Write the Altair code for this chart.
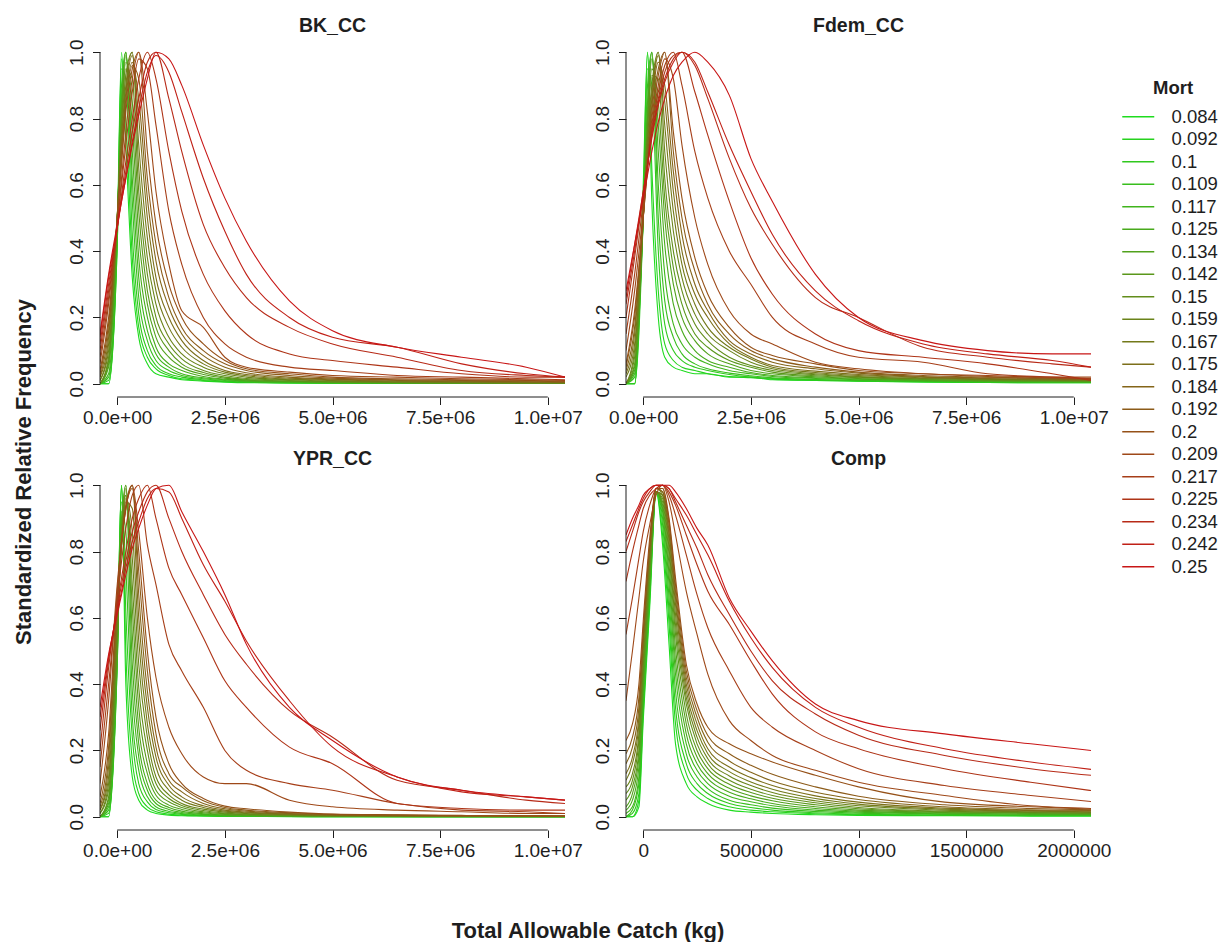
import altair as alt
import pandas as pd

FONT = "Liberation Sans"
INK = "#1e1e1e"

# Natural mortality scenarios (legend order)
MORT = ["0.084", "0.092", "0.1", "0.109", "0.117", "0.125", "0.134", "0.142",
        "0.15", "0.159", "0.167", "0.175", "0.184", "0.192", "0.2", "0.209",
        "0.217", "0.225", "0.234", "0.242", "0.25"]

# TAC grid (kg) shared by the three catch-curve panels
X_TAC = [-400000, -200000, 0, 100000, 200000, 350000, 500000, 700000, 900000,
         1200000, 1500000, 2000000, 2500000, 3000000, 4000000, 5000000,
         6500000, 8000000, 9500000, 10400000]

# TAC grid (kg) for the composite panel
X_COMP = [-80000, -50000, -20000, 0, 30000, 60000, 90000, 120000, 150000,
          200000, 250000, 300000, 400000, 500000, 600000, 800000, 1000000,
          1400000, 1800000, 2080000]

# Standardized relative frequency, one row per mortality value
BK_CC = [
    [0, 0, 0.45, 1.0, 0.72, 0.32, 0.14, 0.06, 0.03, 0.02, 0.012, 0.008, 0.005, 0.003, 0.002, 0.002, 0.001, 0.001, 0.001, 0.001],
    [0, 0, 0.42, 0.98, 0.8, 0.38, 0.17, 0.08, 0.045, 0.025, 0.015, 0.01, 0.006, 0.004, 0.003, 0.002, 0.002, 0.001, 0.001, 0.001],
    [0, 0.01, 0.42, 0.95, 0.92, 0.45, 0.21, 0.1, 0.055, 0.03, 0.02, 0.012, 0.008, 0.005, 0.003, 0.002, 0.002, 0.001, 0.001, 0.001],
    [0, 0.02, 0.44, 0.9, 1.0, 0.55, 0.26, 0.13, 0.07, 0.04, 0.025, 0.015, 0.01, 0.006, 0.004, 0.003, 0.002, 0.002, 0.001, 0.001],
    [0, 0.03, 0.46, 0.86, 1.0, 0.62, 0.32, 0.16, 0.09, 0.05, 0.03, 0.018, 0.012, 0.008, 0.005, 0.003, 0.002, 0.002, 0.001, 0.001],
    [0, 0.05, 0.48, 0.84, 1.0, 0.7, 0.38, 0.2, 0.11, 0.06, 0.04, 0.022, 0.014, 0.009, 0.006, 0.004, 0.003, 0.002, 0.002, 0.002],
    [0, 0.06, 0.5, 0.82, 0.99, 0.78, 0.45, 0.24, 0.14, 0.08, 0.05, 0.028, 0.017, 0.011, 0.007, 0.005, 0.003, 0.002, 0.002, 0.002],
    [0, 0.07, 0.5, 0.8, 0.97, 0.85, 0.52, 0.28, 0.17, 0.1, 0.06, 0.034, 0.02, 0.013, 0.008, 0.005, 0.004, 0.003, 0.002, 0.002],
    [0, 0.08, 0.5, 0.78, 0.95, 0.92, 0.58, 0.33, 0.2, 0.12, 0.075, 0.04, 0.025, 0.016, 0.01, 0.006, 0.004, 0.003, 0.002, 0.002],
    [0.01, 0.1, 0.5, 0.76, 0.93, 1.0, 0.65, 0.38, 0.24, 0.14, 0.09, 0.05, 0.03, 0.02, 0.012, 0.008, 0.005, 0.004, 0.003, 0.003],
    [0.01, 0.12, 0.5, 0.74, 0.9, 1.0, 0.72, 0.44, 0.28, 0.17, 0.11, 0.06, 0.035, 0.024, 0.014, 0.01, 0.006, 0.005, 0.004, 0.003],
    [0.02, 0.14, 0.5, 0.72, 0.88, 0.99, 0.8, 0.5, 0.32, 0.2, 0.13, 0.07, 0.04, 0.028, 0.017, 0.012, 0.008, 0.006, 0.005, 0.004],
    [0.02, 0.16, 0.5, 0.7, 0.86, 0.97, 0.86, 0.56, 0.37, 0.23, 0.15, 0.085, 0.05, 0.033, 0.02, 0.014, 0.01, 0.008, 0.006, 0.005],
    [0.03, 0.18, 0.5, 0.68, 0.84, 0.96, 0.92, 0.62, 0.42, 0.26, 0.17, 0.1, 0.06, 0.04, 0.025, 0.017, 0.012, 0.01, 0.008, 0.006],
    [0.04, 0.2, 0.5, 0.66, 0.82, 0.95, 1.0, 0.7, 0.48, 0.3, 0.2, 0.12, 0.07, 0.045, 0.03, 0.02, 0.015, 0.012, 0.01, 0.008],
    [0.06, 0.24, 0.48, 0.62, 0.76, 0.92, 1.0, 0.82, 0.58, 0.36, 0.22, 0.17, 0.08, 0.05, 0.035, 0.025, 0.02, 0.015, 0.012, 0.01],
    [0.08, 0.26, 0.48, 0.6, 0.72, 0.88, 0.98, 0.95, 0.78, 0.52, 0.36, 0.2, 0.12, 0.08, 0.05, 0.04, 0.025, 0.02, 0.015, 0.012],
    [0.1, 0.28, 0.47, 0.57, 0.67, 0.8, 0.92, 1.0, 0.92, 0.7, 0.52, 0.33, 0.22, 0.15, 0.09, 0.07, 0.05, 0.03, 0.02, 0.02],
    [0.12, 0.3, 0.47, 0.56, 0.64, 0.76, 0.86, 0.97, 1.0, 0.86, 0.7, 0.48, 0.35, 0.26, 0.17, 0.12, 0.08, 0.04, 0.025, 0.02],
    [0.14, 0.32, 0.47, 0.55, 0.62, 0.73, 0.83, 0.94, 0.99, 0.94, 0.82, 0.62, 0.46, 0.33, 0.2, 0.14, 0.11, 0.06, 0.03, 0.02],
    [0.15, 0.33, 0.48, 0.55, 0.62, 0.72, 0.81, 0.92, 1.0, 0.98, 0.9, 0.72, 0.56, 0.43, 0.25, 0.16, 0.11, 0.08, 0.05, 0.02],
]

FDEM_CC = [
    [0, 0, 0.6, 1.0, 0.55, 0.2, 0.08, 0.05, 0.04, 0.03, 0.03, 0.02, 0.02, 0.012, 0.01, 0.008, 0.005, 0.004, 0.003, 0.003],
    [0, 0, 0.55, 1.0, 0.65, 0.28, 0.12, 0.07, 0.05, 0.04, 0.03, 0.022, 0.018, 0.014, 0.01, 0.008, 0.006, 0.004, 0.003, 0.003],
    [0, 0, 0.5, 0.95, 0.9, 0.4, 0.18, 0.1, 0.07, 0.05, 0.04, 0.028, 0.02, 0.016, 0.012, 0.009, 0.007, 0.005, 0.004, 0.004],
    [0, 0.02, 0.5, 0.9, 1.0, 0.5, 0.25, 0.14, 0.09, 0.06, 0.045, 0.032, 0.024, 0.018, 0.013, 0.01, 0.008, 0.006, 0.005, 0.004],
    [0, 0.03, 0.5, 0.85, 1.0, 0.6, 0.33, 0.18, 0.12, 0.08, 0.06, 0.04, 0.03, 0.022, 0.016, 0.012, 0.009, 0.007, 0.006, 0.005],
    [0, 0.04, 0.5, 0.82, 1.0, 0.7, 0.42, 0.24, 0.16, 0.1, 0.07, 0.05, 0.034, 0.025, 0.018, 0.014, 0.01, 0.008, 0.007, 0.006],
    [0, 0.05, 0.5, 0.8, 0.98, 0.78, 0.5, 0.3, 0.2, 0.13, 0.09, 0.06, 0.04, 0.03, 0.021, 0.016, 0.012, 0.009, 0.008, 0.007],
    [0, 0.06, 0.5, 0.78, 0.95, 0.85, 0.56, 0.35, 0.24, 0.15, 0.11, 0.07, 0.05, 0.035, 0.024, 0.018, 0.013, 0.01, 0.009, 0.008],
    [0, 0.08, 0.5, 0.76, 0.93, 0.92, 0.62, 0.4, 0.28, 0.18, 0.13, 0.08, 0.055, 0.04, 0.027, 0.02, 0.015, 0.012, 0.01, 0.009],
    [0, 0.1, 0.5, 0.74, 0.9, 1.0, 0.7, 0.46, 0.32, 0.21, 0.15, 0.1, 0.065, 0.045, 0.03, 0.022, 0.016, 0.013, 0.011, 0.01],
    [0.02, 0.12, 0.5, 0.72, 0.88, 1.0, 0.78, 0.52, 0.36, 0.24, 0.17, 0.11, 0.075, 0.05, 0.034, 0.025, 0.018, 0.014, 0.012, 0.011],
    [0.03, 0.15, 0.5, 0.7, 0.86, 0.99, 0.85, 0.58, 0.4, 0.27, 0.2, 0.12, 0.08, 0.055, 0.038, 0.028, 0.02, 0.016, 0.013, 0.012],
    [0.04, 0.17, 0.5, 0.68, 0.84, 0.97, 0.9, 0.64, 0.45, 0.3, 0.22, 0.13, 0.09, 0.065, 0.045, 0.032, 0.022, 0.018, 0.015, 0.013],
    [0.05, 0.2, 0.5, 0.66, 0.82, 0.95, 1.0, 0.7, 0.5, 0.34, 0.24, 0.15, 0.1, 0.075, 0.05, 0.035, 0.025, 0.02, 0.016, 0.014],
    [0.06, 0.22, 0.5, 0.65, 0.8, 0.93, 1.0, 0.76, 0.56, 0.38, 0.27, 0.17, 0.11, 0.085, 0.06, 0.04, 0.03, 0.022, 0.018, 0.015],
    [0.1, 0.28, 0.52, 0.65, 0.78, 0.9, 0.98, 0.92, 0.72, 0.5, 0.36, 0.22, 0.15, 0.12, 0.065, 0.045, 0.03, 0.025, 0.02, 0.02],
    [0.15, 0.33, 0.55, 0.66, 0.77, 0.88, 0.96, 1.0, 0.9, 0.7, 0.56, 0.4, 0.3, 0.2, 0.12, 0.08, 0.065, 0.03, 0.02, 0.015],
    [0.2, 0.38, 0.57, 0.66, 0.76, 0.86, 0.94, 0.99, 1.0, 0.88, 0.75, 0.55, 0.38, 0.27, 0.15, 0.1, 0.08, 0.06, 0.03, 0.01],
    [0.24, 0.4, 0.58, 0.66, 0.75, 0.85, 0.92, 0.98, 1.0, 0.96, 0.86, 0.68, 0.53, 0.42, 0.26, 0.2, 0.11, 0.08, 0.06, 0.05],
    [0.26, 0.42, 0.58, 0.66, 0.74, 0.84, 0.91, 0.97, 1.0, 0.97, 0.88, 0.72, 0.58, 0.45, 0.28, 0.19, 0.12, 0.09, 0.07, 0.05],
    [0.28, 0.42, 0.56, 0.63, 0.7, 0.79, 0.86, 0.93, 0.97, 1.0, 0.97, 0.87, 0.68, 0.55, 0.33, 0.2, 0.13, 0.1, 0.09, 0.09],
]

YPR_CC = [
    [0, 0, 0.5, 1.0, 0.4, 0.12, 0.05, 0.02, 0.01, 0.005, 0.003, 0.002, 0.001, 0.001, 0, 0, 0, 0, 0, 0],
    [0, 0, 0.48, 1.0, 0.5, 0.17, 0.07, 0.03, 0.015, 0.008, 0.005, 0.003, 0.002, 0.001, 0.001, 0, 0, 0, 0, 0],
    [0, 0.01, 0.46, 1.0, 0.62, 0.24, 0.1, 0.045, 0.022, 0.012, 0.007, 0.004, 0.002, 0.001, 0.001, 0, 0, 0, 0, 0],
    [0, 0.02, 0.46, 0.95, 0.75, 0.3, 0.14, 0.06, 0.03, 0.016, 0.01, 0.005, 0.003, 0.002, 0.001, 0.001, 0, 0, 0, 0],
    [0, 0.03, 0.48, 0.92, 0.86, 0.38, 0.18, 0.08, 0.04, 0.022, 0.013, 0.007, 0.004, 0.003, 0.002, 0.001, 0.001, 0, 0, 0],
    [0, 0.04, 0.5, 0.9, 0.97, 0.46, 0.22, 0.1, 0.05, 0.028, 0.017, 0.009, 0.005, 0.004, 0.002, 0.001, 0.001, 0.001, 0, 0],
    [0, 0.05, 0.52, 0.88, 1.0, 0.55, 0.27, 0.13, 0.065, 0.035, 0.022, 0.012, 0.007, 0.005, 0.003, 0.002, 0.001, 0.001, 0.001, 0],
    [0, 0.06, 0.54, 0.86, 1.0, 0.63, 0.33, 0.16, 0.08, 0.045, 0.028, 0.015, 0.009, 0.006, 0.004, 0.002, 0.001, 0.001, 0.001, 0.001],
    [0.01, 0.08, 0.56, 0.84, 0.99, 0.7, 0.39, 0.2, 0.1, 0.055, 0.034, 0.019, 0.011, 0.008, 0.005, 0.003, 0.002, 0.001, 0.001, 0.001],
    [0.01, 0.1, 0.58, 0.83, 0.97, 0.78, 0.46, 0.24, 0.12, 0.066, 0.04, 0.023, 0.014, 0.01, 0.006, 0.003, 0.002, 0.002, 0.001, 0.001],
    [0.02, 0.12, 0.6, 0.82, 0.96, 0.86, 0.53, 0.28, 0.15, 0.08, 0.05, 0.028, 0.017, 0.012, 0.007, 0.004, 0.003, 0.002, 0.001, 0.001],
    [0.02, 0.15, 0.62, 0.82, 0.95, 0.93, 0.6, 0.33, 0.18, 0.095, 0.06, 0.033, 0.02, 0.014, 0.008, 0.005, 0.003, 0.002, 0.002, 0.001],
    [0.03, 0.18, 0.64, 0.82, 0.94, 1.0, 0.67, 0.38, 0.21, 0.11, 0.075, 0.04, 0.024, 0.017, 0.01, 0.006, 0.004, 0.003, 0.002, 0.002],
    [0.04, 0.21, 0.66, 0.82, 0.93, 1.0, 0.74, 0.44, 0.25, 0.13, 0.09, 0.048, 0.028, 0.02, 0.012, 0.007, 0.005, 0.003, 0.002, 0.002],
    [0.06, 0.25, 0.68, 0.83, 0.93, 0.99, 0.8, 0.5, 0.3, 0.16, 0.1, 0.055, 0.032, 0.024, 0.014, 0.008, 0.006, 0.004, 0.003, 0.002],
    [0.1, 0.35, 0.7, 0.83, 0.93, 1.0, 0.86, 0.6, 0.42, 0.27, 0.19, 0.12, 0.1, 0.1, 0.05, 0.03, 0.02, 0.015, 0.01, 0.01],
    [0.15, 0.4, 0.66, 0.77, 0.87, 0.97, 1.0, 0.82, 0.7, 0.52, 0.44, 0.33, 0.2, 0.14, 0.1, 0.08, 0.04, 0.02, 0.015, 0.01],
    [0.2, 0.45, 0.64, 0.72, 0.8, 0.9, 0.96, 1.0, 0.9, 0.75, 0.67, 0.54, 0.41, 0.33, 0.21, 0.16, 0.04, 0.025, 0.02, 0.02],
    [0.26, 0.47, 0.63, 0.7, 0.77, 0.86, 0.92, 0.98, 1.0, 0.9, 0.8, 0.67, 0.55, 0.46, 0.32, 0.24, 0.11, 0.08, 0.05, 0.04],
    [0.3, 0.48, 0.62, 0.68, 0.75, 0.83, 0.89, 0.96, 0.99, 0.98, 0.9, 0.76, 0.65, 0.53, 0.35, 0.21, 0.12, 0.075, 0.06, 0.05],
    [0.33, 0.49, 0.61, 0.67, 0.73, 0.81, 0.87, 0.94, 0.99, 1.0, 0.92, 0.8, 0.67, 0.52, 0.33, 0.23, 0.12, 0.08, 0.06, 0.05],
]

COMP = [
    [0, 0, 0.03, 0.29, 0.63, 0.98, 0.82, 0.52, 0.22, 0.1, 0.06, 0.04, 0.02, 0.014, 0.01, 0.006, 0.004, 0.003, 0.002, 0.002],
    [0, 0, 0.05, 0.31, 0.65, 0.98, 0.85, 0.58, 0.28, 0.13, 0.08, 0.055, 0.03, 0.02, 0.015, 0.009, 0.006, 0.004, 0.003, 0.003],
    [0, 0.01, 0.07, 0.33, 0.67, 0.98, 0.88, 0.62, 0.33, 0.16, 0.1, 0.07, 0.04, 0.028, 0.02, 0.012, 0.008, 0.005, 0.004, 0.004],
    [0, 0.02, 0.1, 0.35, 0.68, 0.98, 0.9, 0.66, 0.38, 0.19, 0.12, 0.085, 0.05, 0.036, 0.026, 0.016, 0.011, 0.007, 0.005, 0.005],
    [0.01, 0.03, 0.12, 0.37, 0.7, 0.98, 0.92, 0.7, 0.43, 0.22, 0.14, 0.1, 0.062, 0.045, 0.033, 0.02, 0.014, 0.009, 0.007, 0.006],
    [0.02, 0.05, 0.15, 0.39, 0.71, 0.98, 0.93, 0.73, 0.47, 0.25, 0.16, 0.115, 0.074, 0.054, 0.04, 0.025, 0.017, 0.011, 0.008, 0.007],
    [0.03, 0.07, 0.18, 0.41, 0.73, 0.98, 0.94, 0.76, 0.51, 0.28, 0.18, 0.13, 0.086, 0.063, 0.048, 0.03, 0.02, 0.013, 0.01, 0.008],
    [0.05, 0.09, 0.2, 0.43, 0.74, 0.98, 0.95, 0.79, 0.55, 0.31, 0.2, 0.145, 0.098, 0.073, 0.056, 0.036, 0.024, 0.015, 0.012, 0.01],
    [0.07, 0.11, 0.23, 0.45, 0.76, 0.98, 0.96, 0.81, 0.58, 0.34, 0.22, 0.16, 0.11, 0.083, 0.064, 0.042, 0.028, 0.017, 0.013, 0.011],
    [0.09, 0.13, 0.25, 0.47, 0.77, 0.98, 0.97, 0.83, 0.61, 0.36, 0.24, 0.175, 0.123, 0.094, 0.073, 0.048, 0.033, 0.02, 0.015, 0.013],
    [0.11, 0.16, 0.28, 0.5, 0.79, 0.99, 0.97, 0.85, 0.64, 0.38, 0.26, 0.19, 0.136, 0.105, 0.083, 0.055, 0.038, 0.023, 0.017, 0.015],
    [0.13, 0.18, 0.3, 0.52, 0.8, 0.99, 0.98, 0.86, 0.66, 0.4, 0.28, 0.205, 0.15, 0.118, 0.094, 0.063, 0.044, 0.026, 0.019, 0.017],
    [0.16, 0.21, 0.33, 0.54, 0.81, 0.99, 0.98, 0.88, 0.68, 0.42, 0.3, 0.225, 0.168, 0.134, 0.108, 0.074, 0.052, 0.03, 0.021, 0.019],
    [0.19, 0.24, 0.36, 0.56, 0.82, 0.99, 0.99, 0.89, 0.7, 0.44, 0.32, 0.245, 0.19, 0.155, 0.128, 0.09, 0.062, 0.036, 0.025, 0.021],
    [0.23, 0.28, 0.4, 0.59, 0.84, 0.99, 0.99, 0.9, 0.72, 0.46, 0.34, 0.27, 0.22, 0.19, 0.165, 0.125, 0.09, 0.044, 0.03, 0.023],
    [0.35, 0.5, 0.66, 0.77, 0.88, 0.97, 1.0, 0.95, 0.85, 0.68, 0.55, 0.43, 0.29, 0.23, 0.185, 0.14, 0.104, 0.064, 0.033, 0.025],
    [0.55, 0.66, 0.78, 0.86, 0.94, 0.99, 1.0, 0.97, 0.91, 0.79, 0.67, 0.57, 0.44, 0.33, 0.27, 0.2, 0.145, 0.094, 0.064, 0.046],
    [0.71, 0.8, 0.88, 0.93, 0.97, 0.99, 1.0, 0.98, 0.94, 0.85, 0.76, 0.68, 0.58, 0.47, 0.37, 0.256, 0.205, 0.145, 0.104, 0.079],
    [0.8, 0.86, 0.92, 0.95, 0.98, 1.0, 1.0, 0.99, 0.95, 0.88, 0.81, 0.73, 0.61, 0.5, 0.41, 0.31, 0.246, 0.185, 0.145, 0.125],
    [0.83, 0.88, 0.93, 0.96, 0.99, 1.0, 1.0, 0.99, 0.96, 0.91, 0.85, 0.79, 0.65, 0.54, 0.45, 0.33, 0.27, 0.205, 0.165, 0.143],
    [0.85, 0.9, 0.94, 0.97, 0.99, 1.0, 1.0, 1.0, 0.98, 0.93, 0.87, 0.82, 0.66, 0.56, 0.47, 0.34, 0.29, 0.25, 0.22, 0.2],
]

X_TICKS_TAC = [0, 2500000, 5000000, 7500000, 10000000]
X_TICKS_COMP = [0, 500000, 1000000, 1500000, 2000000]
X_DOMAIN_TAC = [-400000, 10400000]
X_DOMAIN_COMP = [-80000, 2080000]
Y_TICKS = [0, 0.2, 0.4, 0.6, 0.8, 1.0]
Y_DOMAIN = [-0.04, 1.04]

Y_TITLE = "Standardized Relative Frequency"
X_TITLE = "Total Allowable Catch (kg)"

PANEL_W = 465
PANEL_H = 358


def ramp(i, n):
    """Green-to-red colour ramp across the mortality scenarios."""
    t = i / (n - 1)
    lo = (30, 220, 30)
    hi = (200, 22, 22)
    return "#%02x%02x%02x" % tuple(round(a + (b - a) * t) for a, b in zip(lo, hi))


COLORS = [ramp(i, len(MORT)) for i in range(len(MORT))]


def long_frame(grid, rows):
    recs = []
    for mort, ys in zip(MORT, rows):
        for x, y in zip(grid, ys):
            recs.append({"Mort": mort, "x": x, "y": y})
    return pd.DataFrame(recs)


LEGEND = alt.Legend(
    title="Mort", orient="none", legendX=1029, legendY=40, padding=0,
    symbolType="M-4,0L4,0", symbolSize=64, symbolStrokeWidth=1.5,
    labelFont=FONT, labelFontSize=18.5, labelColor=INK, labelOffset=24,
    titleFont=FONT, titleFontSize=18.5, titleFontWeight="bold", titleColor=INK,
    titleAnchor="middle", titlePadding=10, rowPadding=3.5,
)

one_row = pd.DataFrame({"k": [0]})


def panel(title, grid, rows, xticks, xdomain, label_expr, extra=()):
    x_axis = alt.Axis(
        values=xticks, labelExpr=label_expr, title=None, domain=False, grid=False,
        tickSize=7.5, tickColor=INK, labelPadding=4, labelFont=FONT,
        labelFontSize=19, labelColor=INK, labelOverlap=False, labelFlush=False,
    )
    y_axis = alt.Axis(
        values=Y_TICKS, format=".1f", title=None, domain=False, grid=False,
        tickSize=7.5, tickColor=INK, labelAngle=270, labelAlign="center",
        labelBaseline="bottom", labelPadding=6, labelFont=FONT, labelFontSize=19,
        labelColor=INK, labelOverlap=False, labelFlush=False,
    )
    x_enc = alt.X("x:Q", scale=alt.Scale(domain=xdomain, nice=False, zero=False), axis=x_axis)
    y_enc = alt.Y("y:Q", scale=alt.Scale(domain=Y_DOMAIN, nice=False, zero=False), axis=y_axis)

    lines = alt.Chart(long_frame(grid, rows)).mark_line(
        strokeWidth=1.1, clip=True, interpolate="monotone").encode(
        x=x_enc,
        y=y_enc,
        color=alt.Color("Mort:N", sort=MORT,
                        scale=alt.Scale(domain=MORT, range=COLORS), legend=LEGEND),
    )
    # axis lines spanning first to last tick
    x_line = alt.Chart(pd.DataFrame({"x": [xticks[0]], "x2": [xticks[-1]], "y": [Y_DOMAIN[0]]})).mark_rule(
        color=INK, strokeWidth=1).encode(x=x_enc, x2="x2:Q", y=y_enc)
    y_line = alt.Chart(pd.DataFrame({"x": [xdomain[0]], "y": [Y_TICKS[0]], "y2": [Y_TICKS[-1]]})).mark_rule(
        color=INK, strokeWidth=1).encode(x=x_enc, y=y_enc, y2="y2:Q")
    # panel heading, centred above the plotting region
    heading = alt.Chart(one_row).mark_text(
        font=FONT, fontSize=19.5, fontWeight="bold", color=INK,
        align="center", baseline="middle").encode(
        x=alt.value(PANEL_W / 2), y=alt.value(-13), text=alt.value(title))

    layers = [lines, x_line, y_line, heading] + list(extra)
    return alt.layer(*layers).properties(width=PANEL_W, height=PANEL_H)


y_title = alt.Chart(one_row).mark_text(
    angle=270, font=FONT, fontSize=22, fontWeight="bold", color=INK,
    align="center", baseline="middle").encode(
    x=alt.value(-76), y=alt.value(433), text=alt.value(Y_TITLE))

x_title = alt.Chart(one_row).mark_text(
    font=FONT, fontSize=22, fontWeight="bold", color=INK,
    align="center", baseline="middle").encode(
    x=alt.value(488), y=alt.value(459), text=alt.value(X_TITLE))

# keeps the page origin at the upper-left corner of the figure
corner = alt.Chart(one_row).mark_point(opacity=0, size=1).encode(
    x=alt.value(-99), y=alt.value(-38))

SCI = "replace(format(datum.value, '.1e'), 'e+', 'e+0')"
INT = "format(datum.value, 'd')"

p1 = panel("BK_CC", X_TAC, BK_CC, X_TICKS_TAC, X_DOMAIN_TAC, SCI, extra=(y_title, corner))
p2 = panel("Fdem_CC", X_TAC, FDEM_CC, X_TICKS_TAC, X_DOMAIN_TAC, SCI)
p3 = panel("YPR_CC", X_TAC, YPR_CC, X_TICKS_TAC, X_DOMAIN_TAC, SCI, extra=(x_title,))
p4 = panel("Comp", X_COMP, COMP, X_TICKS_COMP, X_DOMAIN_COMP, INT)

chart = alt.concat(
    p1, p2, p3, p4, columns=2, spacing={"row": 75, "column": 61}, bounds="flush",
).properties(
    padding=0, background="white",
).configure_view(stroke=None)

chart.save("out.html", embed_options={"renderer": "svg", "actions": False})
